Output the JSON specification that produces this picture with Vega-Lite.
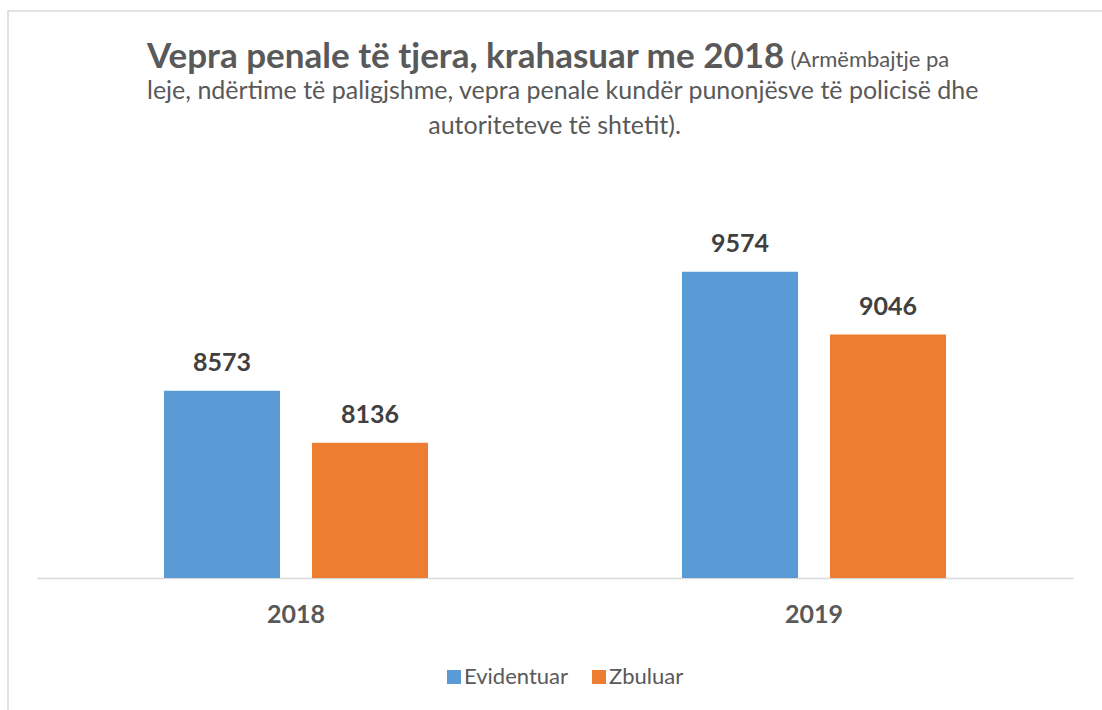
{
  "$schema": "https://vega.github.io/schema/vega-lite/v6.json",
  "width": 1104,
  "height": 710,
  "autosize": {"type": "none"},
  "padding": {"left": 8, "top": 11, "right": -10, "bottom": -11},
  "background": "white",
  "config": {"view": {"stroke": "#D9D9D9", "strokeWidth": 1.5}, "font": "Lato"},
  "title": {
    "text": "Vepra penale të tjera, krahasuar me 2018",
    "subtitle": [
      "leje, ndërtime të paligjshme, vepra penale kundër punonjësve të policisë dhe",
      "\u200B\u2003\u2003\u2003\u2003\u2003\u2003\u2003\u2003\u2003\u2003\u2003\u2003\u2003\u2003\u2003autoriteteve të shtetit)."
    ],
    "anchor": "start",
    "frame": "group",
    "dx": 139,
    "dy": 132,
    "font": "Lato",
    "fontSize": 35,
    "fontWeight": "bold",
    "color": "#595959",
    "subtitleFont": "Lato",
    "subtitleFontSize": 25,
    "subtitleFontWeight": "normal",
    "subtitleColor": "#595959",
    "subtitleLineHeight": 35,
    "subtitlePadding": 4
  },
  "data": {
    "values": [
      {"year": "2018", "type": "Evidentuar", "value": 8573},
      {"year": "2018", "type": "Zbuluar", "value": 8136},
      {"year": "2019", "type": "Evidentuar", "value": 9574},
      {"year": "2019", "type": "Zbuluar", "value": 9046}
    ]
  },
  "encoding": {
    "x": {
      "field": "year",
      "type": "nominal",
      "scale": {"range": [29, 1065], "paddingInner": 0, "paddingOuter": 0},
      "axis": {
        "title": null,
        "domainColor": "#D9D9D9",
        "domainWidth": 1.5,
        "ticks": false,
        "tickSize": 0,
        "labelAngle": 0,
        "labelFont": "Lato",
        "labelFontSize": 25,
        "labelFontWeight": "bold",
        "labelColor": "#595959",
        "labelPadding": 44,
        "labelBaseline": "alphabetic",
        "offset": -143,
        "grid": false
      }
    },
    "xOffset": {
      "field": "type",
      "type": "nominal",
      "sort": ["Evidentuar", "Zbuluar"],
      "scale": {"paddingInner": 0.216, "paddingOuter": 0.858}
    },
    "y": {
      "field": "value",
      "type": "quantitative",
      "scale": {"domain": [7000, 10000], "range": [567, 210], "zero": false},
      "axis": {
        "title": "(Armëmbajtje pa",
        "titleAngle": 0,
        "titleX": 782,
        "titleY": 55,
        "titleAlign": "left",
        "titleBaseline": "alphabetic",
        "titleFont": "Lato",
        "titleFontSize": 22,
        "titleFontWeight": "normal",
        "titleColor": "#595959",
        "labels": false,
        "ticks": false,
        "domain": false,
        "grid": false
      }
    }
  },
  "layer": [
    {
      "mark": {"type": "bar"},
      "encoding": {
        "y2": {"datum": 7000},
        "color": {
          "field": "type",
          "type": "nominal",
          "scale": {"domain": ["Evidentuar", "Zbuluar"], "range": ["#5B9BD5", "#ED7D31"]},
          "legend": {
            "title": null,
            "orient": "none",
            "legendX": 435,
            "legendY": 655,
            "direction": "horizontal",
            "symbolType": "square",
            "symbolSize": 196,
            "symbolStrokeWidth": 0,
            "labelFont": "Lato",
            "labelFontSize": 22,
            "labelColor": "#595959",
            "columnPadding": 20,
            "labelOffset": -1,
            "padding": 0
          }
        }
      }
    },
    {
      "mark": {
        "type": "text",
        "dy": -20,
        "baseline": "alphabetic",
        "font": "Lato",
        "fontSize": 25,
        "fontWeight": "bold",
        "color": "#404040"
      },
      "encoding": {
        "text": {"field": "value", "type": "quantitative", "format": "d"}
      }
    }
  ]
}
